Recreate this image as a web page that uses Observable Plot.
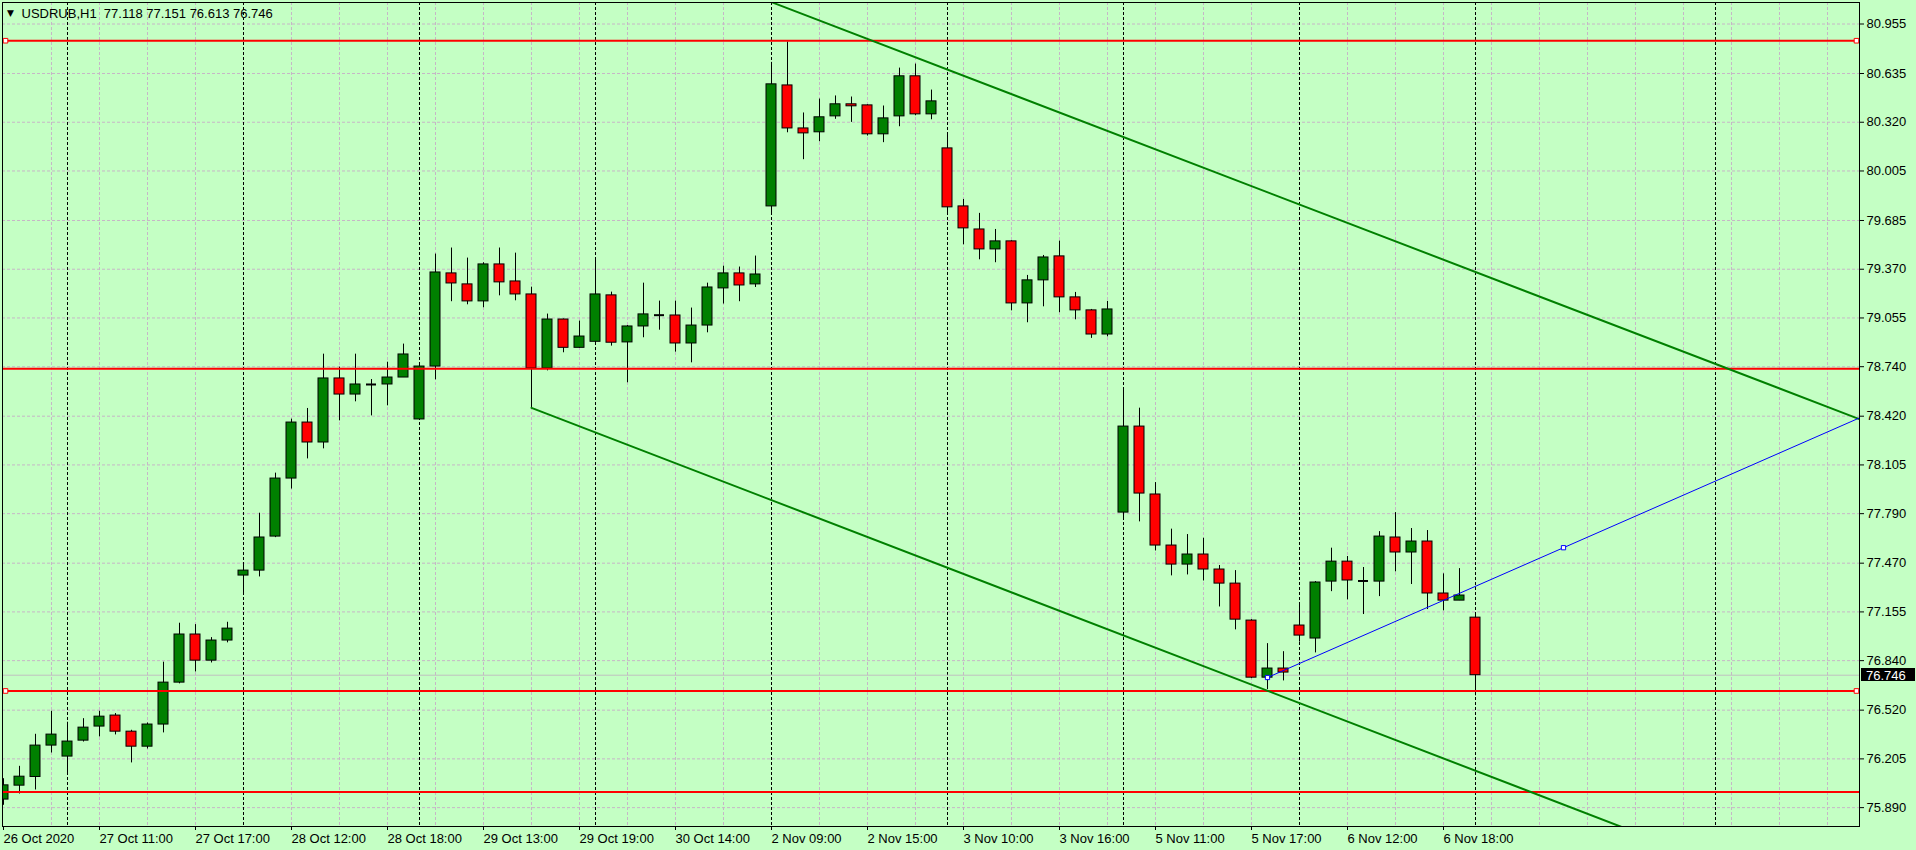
<!DOCTYPE html>
<html><head><meta charset="utf-8">
<script src="https://cdn.jsdelivr.net/npm/d3@7"></script>
<script src="https://cdn.jsdelivr.net/npm/@observablehq/plot@0.6"></script>
<style>
html,body{margin:0;padding:0;background:#c4ffc4;}
#chart{width:1916px;height:850px;overflow:hidden;}
</style></head><body><div id="chart"></div>
<script>
// ---- data (hourly USDRUB bars, index = bar number) ----
const symbolName = "USDRUB,H1";
const open  = [75.942,76.032,76.088,76.291,76.220,76.323,76.414,76.485,76.381,76.284,
               76.427,76.698,77.009,76.840,76.970,77.390,77.422,77.642,78.017,78.379,
               78.250,78.664,78.560,78.625,78.625,78.670,78.399,78.741,79.343,79.272,
               79.162,79.401,79.291,79.207,78.728,79.045,78.862,78.901,79.201,78.897,
               79.000,79.073,79.071,78.890,79.006,79.246,79.343,79.272,79.776,80.558,
               80.280,80.255,80.358,80.436,80.429,80.242,80.358,80.617,80.371,80.151,
               79.776,79.627,79.498,79.550,79.149,79.298,79.453,79.188,79.104,78.948,
               77.797,78.353,77.914,77.584,77.461,77.526,77.429,77.338,77.099,76.730,
               76.789,77.067,76.983,77.351,77.480,77.355,77.351,77.636,77.539,77.610,
               77.274,77.228,77.118];
const high  = [76.077,76.157,76.364,76.513,76.442,76.465,76.513,76.498,76.390,76.437,
               76.830,77.082,77.073,76.989,77.088,77.457,77.793,78.052,78.401,78.470,
               78.821,78.737,78.821,78.657,78.769,78.886,78.750,79.468,79.507,79.442,
               79.412,79.507,79.474,79.254,79.080,79.048,79.035,79.429,79.222,79.006,
               79.280,79.164,79.164,79.119,79.280,79.390,79.384,79.455,80.707,80.839,
               80.380,80.470,80.490,80.483,80.433,80.425,80.670,80.696,80.528,80.242,
               79.821,79.731,79.627,79.554,79.330,79.459,79.552,79.220,79.110,79.162,
               78.588,78.472,77.991,77.690,77.655,77.631,77.455,77.422,77.105,76.950,
               76.898,77.215,77.351,77.567,77.513,77.442,77.674,77.797,77.694,77.681,
               77.401,77.435,77.151];
const low   = [75.905,75.978,76.004,76.243,76.114,76.314,76.347,76.360,76.179,76.269,
               76.373,76.690,76.767,76.825,76.955,77.278,77.381,77.635,77.949,78.144,
               78.209,78.390,78.513,78.422,78.487,78.670,78.394,78.655,79.160,79.140,
               79.121,79.198,79.166,78.474,78.713,78.830,78.860,78.880,78.873,78.636,
               78.927,78.976,78.834,78.765,78.959,79.145,79.160,79.252,79.724,80.252,
               80.078,80.194,80.339,80.319,80.231,80.188,80.291,80.362,80.336,79.720,
               79.528,79.431,79.412,79.101,79.024,79.127,79.089,79.043,78.923,78.933,
               77.750,77.737,77.549,77.388,77.394,77.355,77.187,77.039,76.724,76.653,
               76.709,76.960,76.890,77.286,77.233,77.138,77.254,77.414,77.332,77.170,
               77.162,77.228,76.613];
const close = [76.034,76.090,76.291,76.362,76.317,76.407,76.478,76.381,76.284,76.427,
               76.698,77.009,76.840,76.970,77.047,77.422,77.636,78.017,78.379,78.250,
               78.664,78.560,78.625,78.625,78.670,78.819,78.741,79.349,79.278,79.162,
               79.401,79.285,79.207,78.728,79.045,78.862,78.935,79.207,78.895,79.000,
               79.078,79.073,78.890,79.006,79.252,79.343,79.265,79.336,80.565,80.280,
               80.248,80.352,80.436,80.423,80.242,80.345,80.617,80.371,80.455,79.770,
               79.634,79.498,79.550,79.149,79.298,79.446,79.188,79.104,78.948,79.110,
               78.353,77.920,77.584,77.461,77.526,77.429,77.338,77.105,76.730,76.789,
               76.763,77.002,77.345,77.480,77.358,77.355,77.642,77.539,77.610,77.274,
               77.228,77.261,76.746];

const xTickBars   = [0,6,12,18,24,30,36,42,48,54,60,66,72,78,84,90];
const xTickLabels = ["26 Oct 2020","27 Oct 11:00","27 Oct 17:00","28 Oct 12:00","28 Oct 18:00",
                     "29 Oct 13:00","29 Oct 19:00","30 Oct 14:00","2 Nov 09:00","2 Nov 15:00",
                     "3 Nov 10:00","3 Nov 16:00","5 Nov 11:00","5 Nov 17:00","6 Nov 12:00","6 Nov 18:00"];
const daySeparatorBars = [4,15,26,37,48,59,70,81,92,107];
const yTickValues = [80.955,80.635,80.320,80.005,79.685,79.370,79.055,78.740,78.420,
                     78.105,77.790,77.470,77.155,76.840,76.520,76.205,75.890];

const levelPrices    = [80.847, 78.726, 76.644, 75.991];   // red horizontal lines
const selectedLevels = [80.847, 76.644];                   // lines showing handles
const upperChannelBars   = [48, 116];
const upperChannelPrices = [81.096, 78.401];
const lowerChannelBars   = [33, 116];
const lowerChannelPrices = [78.474, 75.174];
const blueLineBars   = [79, 116];
const blueLinePrices = [76.731, 78.409];

// ---- build tables ----
const candles = open.map((o, i) => ({i, open: o, high: high[i], low: low[i], close: close[i]}));
const dojis = candles.filter(d => Math.abs(d.close - d.open) < 0.005);
const bulls = candles.filter(d => d.close - d.open >= 0.005);
const bears = candles.filter(d => d.open - d.close >= 0.005);
const toPts = (bars, prices) => bars.map((b, k) => ({bar: b, price: prices[k]}));
const upper = toPts(upperChannelBars, upperChannelPrices);
const lower = toPts(lowerChannelBars, lowerChannelPrices);
const blue = toPts(blueLineBars, blueLinePrices);
const blueHandles = [blue[0], {bar: (blue[0].bar + blue[1].bar) / 2, price: (blue[0].price + blue[1].price) / 2}];
const last = candles[candles.length - 1];
const headerText = `${symbolName}  ${last.open.toFixed(3)} ${last.high.toFixed(3)} ${last.low.toFixed(3)} ${last.close.toFixed(3)}`;
const xLabelMap = new Map(xTickBars.map((b, k) => [b, xTickLabels[k]]));
const gridBars = d3.range(3, 116, 3);
const half = 0.3125;

const GREEN = "#008000", RED = "#ff0000", GRID = "#c6b6c6";

function bidLabel(index, scales, values, dimensions) {
  const yv = scales.y(last.close);
  const x0 = dimensions.width - dimensions.marginRight;
  const g = d3.create("svg:g");
  g.append("rect").attr("x", x0 + 2).attr("y", Math.round(yv) - 7).attr("width", 54).attr("height", 13).attr("fill", "black");
  g.append("text").attr("x", x0 + 7).attr("y", yv + 0.5).attr("dy", "0.35em")
    .attr("text-anchor", "start")
    .attr("fill", "white").attr("font-family", "Liberation Sans").attr("font-size", 13)
    .text(last.close.toFixed(3));
  return g.node();
}

const chart = Plot.plot({
  width: 1916, height: 850,
  marginLeft: 2, marginRight: 57, marginTop: 2, marginBottom: 24,
  x: {type: "linear", domain: [-0.0625, 116], axis: null},
  y: {type: "linear", domain: [75.768, 81.094], axis: null},
  style: {background: "#c4ffc4", fontFamily: "Liberation Sans", fontSize: "13px", color: "black"},
  marks: [
    Plot.ruleY(yTickValues, {stroke: GRID, strokeDasharray: "3,2"}),
    Plot.ruleX(gridBars, {stroke: GRID, strokeDasharray: "3,2"}),
    Plot.ruleX(daySeparatorBars, {stroke: "black", strokeDasharray: "3,2"}),
    Plot.ruleY([last.close], {stroke: "#c0c0c0"}),
    Plot.ruleX(candles, {x: "i", y1: "low", y2: "high", stroke: "black", clip: true}),
    Plot.rect(bulls, {x1: d => d.i - half, x2: d => d.i + half, y1: "open", y2: "close", fill: GREEN, stroke: "black", clip: true}),
    Plot.rect(bears, {x1: d => d.i - half, x2: d => d.i + half, y1: "open", y2: "close", fill: RED, stroke: "black", clip: true}),
    Plot.ruleY(dojis, {x1: d => d.i - half, x2: d => d.i + half, y: "open", stroke: "black", strokeWidth: 2}),
    Plot.ruleY(levelPrices, {stroke: RED, strokeWidth: 2}),
    Plot.line(upper, {x: "bar", y: "price", stroke: GREEN, strokeWidth: 2, clip: true}),
    Plot.line(lower, {x: "bar", y: "price", stroke: GREEN, strokeWidth: 2, clip: true}),
    Plot.line(blue, {x: "bar", y: "price", stroke: "#0000ff", strokeWidth: 1, clip: true}),
    Plot.dot(selectedLevels, {y: d => d, frameAnchor: "left", dx: 3, symbol: "square", r: 2.6, fill: "white", stroke: RED, strokeWidth: 1}),
    Plot.dot(selectedLevels, {y: d => d, frameAnchor: "right", dx: -3, symbol: "square", r: 2.6, fill: "white", stroke: RED, strokeWidth: 1}),
    Plot.dot(blueHandles, {x: "bar", y: "price", symbol: "square", r: 2.4, fill: "white", stroke: "#0000ff", strokeWidth: 1}),
    Plot.frame({stroke: "black"}),
    Plot.axisX(xTickBars, {anchor: "bottom", tickSize: 4, tickPadding: 3, textAnchor: "start", tickFormat: d => xLabelMap.get(d), label: null, stroke: "black", fill: "black"}),
    Plot.axisY(yTickValues, {anchor: "right", tickSize: 4, tickPadding: 3, tickFormat: d => d.toFixed(3), label: null, stroke: "black", fill: "black"}),
    bidLabel,
    Plot.text(["▼"], {frameAnchor: "top-left", dx: 8, dy: 10.5, textAnchor: "middle", lineAnchor: "middle", fontFamily: "DejaVu Sans", fontSize: 9, fill: "black"}),
    Plot.text([headerText], {frameAnchor: "top-left", dx: 19, dy: 11, textAnchor: "start", lineAnchor: "middle", fill: "black"})
  ]
});
document.getElementById("chart").appendChild(chart);
</script></body></html>
